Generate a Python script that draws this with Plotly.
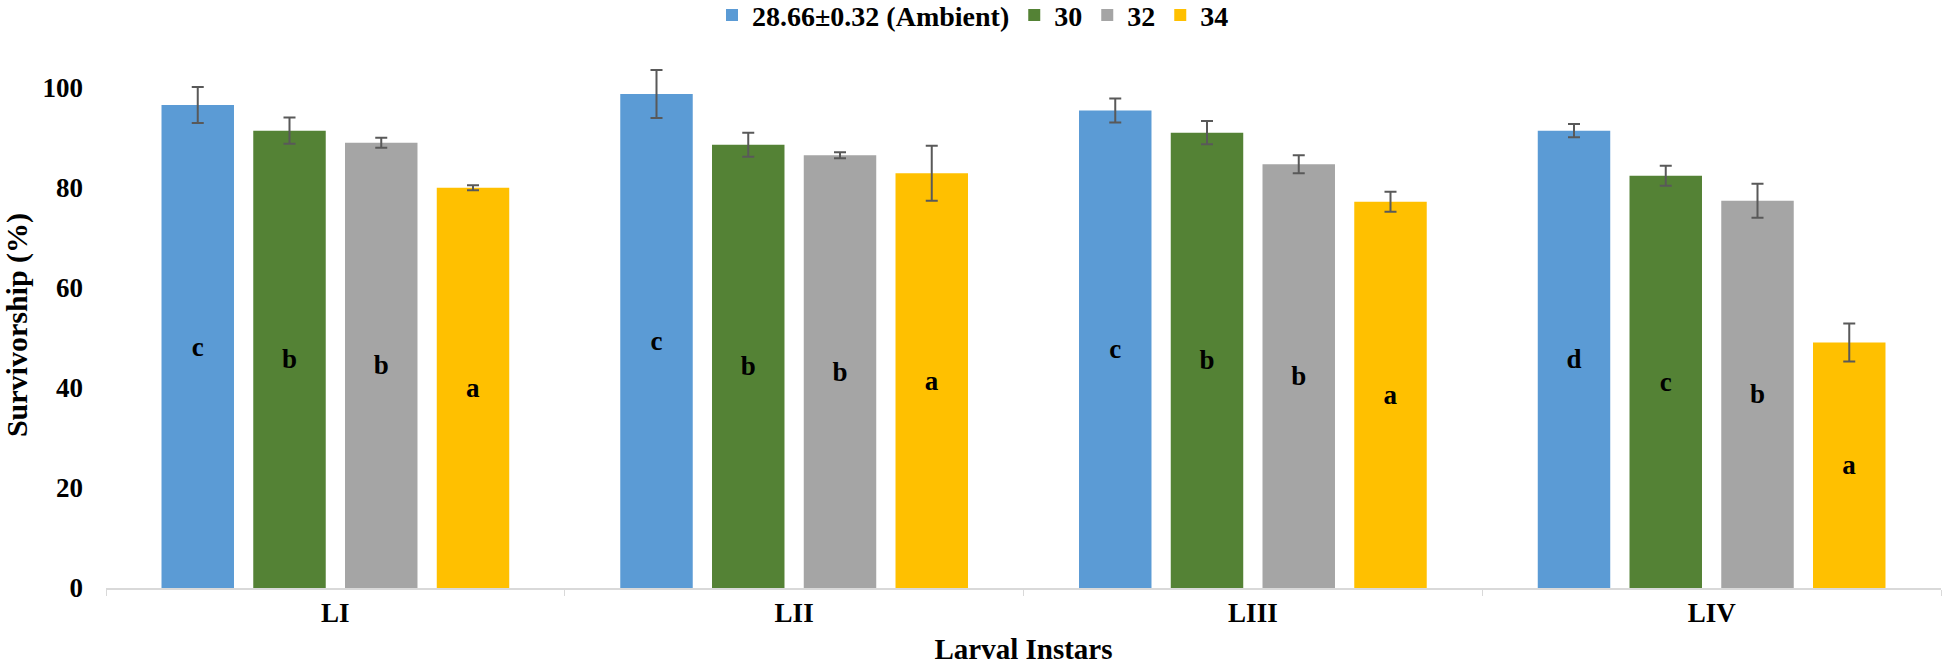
import plotly.graph_objects as go

instars = ["LI", "LII", "LIII", "LIV"]
series_names = ["28.66±0.32 (Ambient)", "30", "32", "34"]
ambient = [96.4, 98.6, 95.3, 91.3]
t30 = [91.3, 88.5, 90.9, 82.3]
t32 = [88.9, 86.4, 84.6, 77.3]
t34 = [79.9, 82.8, 77.1, 49.0]
err_ambient = [3.6, 4.8, 2.4, 1.3]
err_30 = [2.6, 2.4, 2.3, 2.0]
err_32 = [1.0, 0.6, 1.8, 3.4]
err_34 = [0.5, 5.5, 2.0, 3.8]
letters_ambient = ["c", "c", "c", "d"]
letters_30 = ["b", "b", "b", "c"]
letters_32 = ["b", "b", "b", "b"]
letters_34 = ["a", "a", "a", "a"]
y_ticks = [0, 20, 40, 60, 80, 100]

colors = ["#5B9BD5", "#548235", "#A5A5A5", "#FFC000"]
FONT = "Liberation Serif, Times New Roman, serif"

values = [ambient, t30, t32, t34]
errors = [err_ambient, err_30, err_32, err_34]
letters = [letters_ambient, letters_30, letters_32, letters_34]

fig = go.Figure()
for name, vals, errs, lets, col in zip(series_names, values, errors, letters, colors):
    fig.add_trace(go.Bar(
        x=instars, y=vals, name=name,
        marker=dict(color=col, line=dict(width=0)),
        error_y=dict(type="data", array=errs, visible=True,
                     color="#595959", thickness=2, width=6),
        text=lets, textposition="inside", insidetextanchor="middle",
        textangle=0, constraintext="none",
        textfont=dict(family=FONT, size=27, color="black", weight="bold"),
    ))

fig.update_layout(
    width=1946, height=665,
    margin=dict(l=106, r=5, t=62, b=77, autoexpand=False),
    paper_bgcolor="white", plot_bgcolor="white",
    barmode="group", bargap=0.2, bargroupgap=0.21,
    font=dict(family=FONT, size=27, color="black", weight="bold"),
    legend=dict(orientation="h", xref="container", x=0.5, xanchor="center",
                yref="container", y=0.977, yanchor="middle",
                font=dict(family=FONT, size=28, color="black", weight="bold"),
                itemwidth=30, tracegroupgap=0),
    xaxis=dict(
        showline=True, linecolor="#D9D9D9", linewidth=2,
        ticks="outside", tickson="boundaries", ticklen=6, tickcolor="#D9D9D9", tickwidth=1,
        showgrid=False, automargin=False,
        tickfont=dict(family=FONT, size=27, color="black", weight="bold"),
        title=dict(text="Larval Instars", standoff=20,
                   font=dict(family=FONT, size=29, color="black", weight="bold")),
    ),
    yaxis=dict(
        range=[0, 105], tickvals=y_ticks, ticktext=[str(v) for v in y_ticks],
        showline=False, showgrid=False, zeroline=False, ticks="",
        ticklabelstandoff=22, automargin=False,
        tickfont=dict(family=FONT, size=27, color="black", weight="bold"),
        title=dict(text="Survivorship (%)", standoff=13,
                   font=dict(family=FONT, size=30, color="black", weight="bold")),
    ),
)

fig.write_html(
    "out.html",
    config={"displayModeBar": False},
    post_script="document.body.style.margin='0';document.body.style.padding='0';document.body.style.overflow='hidden';",
)
